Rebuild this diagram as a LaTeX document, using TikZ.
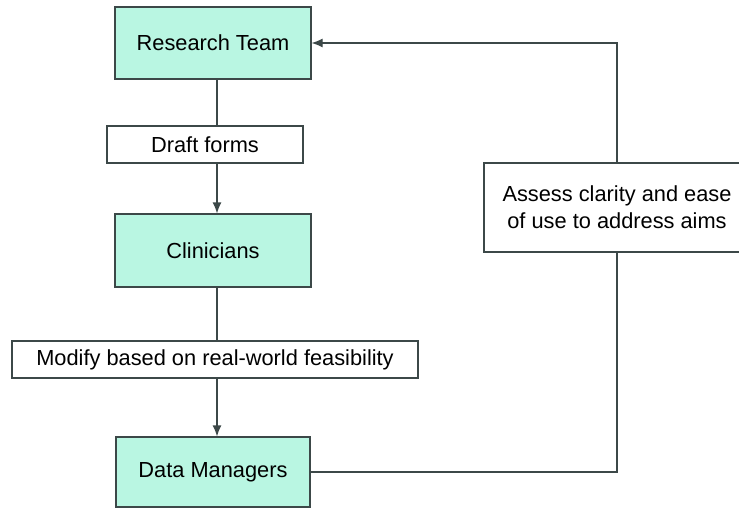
\documentclass[tikz,border=0pt]{standalone}
\usepackage{fontspec}
\setmainfont{Liberation Sans}
\usetikzlibrary{arrows.meta}
\definecolor{mint}{RGB}{185,246,226}
\definecolor{edge}{RGB}{60,72,72}
\tikzset{
  base/.style={draw=edge, line width=1.2pt, inner sep=0pt, align=center,
    font=\fontsize{21.8}{27}\selectfont},
  green/.style={base, fill=mint},
  plain/.style={base, fill=white},
  conn/.style={draw=edge, line width=1.2pt},
  arr/.style={conn, -{Latex[length=11pt,width=9pt]}}
}
\begin{document}
\begin{tikzpicture}[x=1pt,y=-1pt]
\useasboundingbox (0,0) rectangle (739,508);
\node[green, minimum width=196pt, minimum height=72pt] (rt) at (213,43) {Research Team};
\node[plain, minimum width=196pt, minimum height=37pt] (df) at (205,144.5) {Draft forms};
\node[green, minimum width=196pt, minimum height=73pt] (cl) at (213,250.5) {Clinicians};
\node[plain, minimum width=406pt, minimum height=37pt] (mo) at (215,359.5) {Modify based on real-world feasibility};
\node[green, minimum width=194pt, minimum height=70pt] (dm) at (213,472) {Data Managers};
\node[plain, minimum width=266pt, minimum height=89pt] (as) at (617,207.5) {Assess clarity and ease\\of use to address aims};
\coordinate (sp) at (217,0);
\draw[conn] (rt.south -| sp) -- (df.north -| sp);
\draw[arr] (df.south -| sp) -- (cl.north -| sp);
\draw[conn] (cl.south -| sp) -- (mo.north -| sp);
\draw[arr] (mo.south -| sp) -- (dm.north -| sp);
\draw[conn] (dm.east) -| (as.south);
\draw[arr] (as.north) |- (rt.east);
\end{tikzpicture}
\end{document}
